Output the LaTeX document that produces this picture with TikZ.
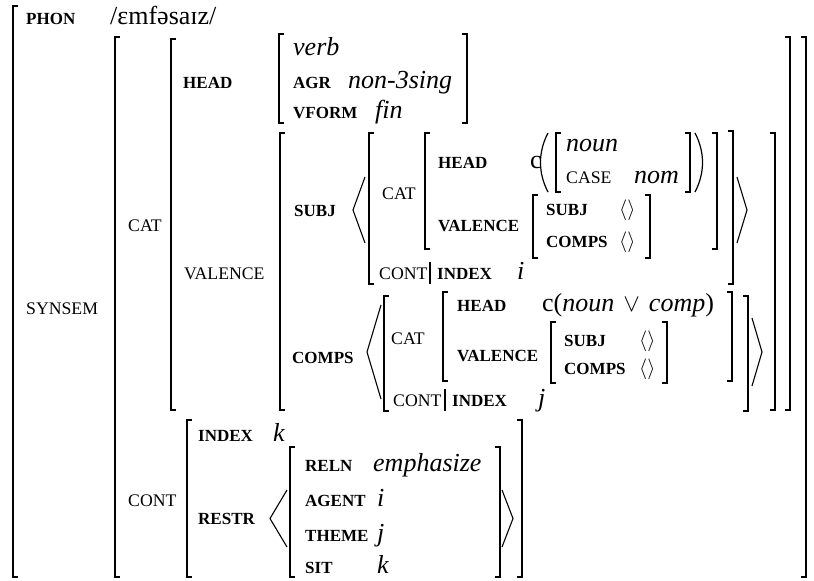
\documentclass[tikz,border=0pt]{standalone}
\usepackage{fontspec}
\setmainfont{Liberation Serif}
\tikzset{
  brk/.style={line width=1.4pt, line cap=butt},
  ang/.style={line width=1.1pt, line join=miter},
  lab/.style={anchor=base west, inner sep=0pt, font=\fontsize{17}{17}\selectfont\bfseries},
  labr/.style={anchor=base west, inner sep=0pt, font=\fontsize{17.7}{17.7}\selectfont},
  val/.style={anchor=base west, inner sep=0pt, font=\fontsize{26}{26}\selectfont\itshape},
  rom/.style={anchor=base west, inner sep=0pt, font=\fontsize{26}{26}\selectfont},
  elist/.style={anchor=base west, inner sep=0pt, font=\fontsize{22}{22}\selectfont},
}
% left / right square brackets: x, ytop, ybottom
\newcommand\avmL[3]{\draw[brk] ({#1+5},{#2}) -- ({#1},{#2}) -- ({#1},{#3}) -- ({#1+5},{#3});}
\newcommand\avmR[3]{\draw[brk] ({#1-5},{#2}) -- ({#1},{#2}) -- ({#1},{#3}) -- ({#1-5},{#3});}
% angle brackets: tip x, end x, ytop, ybottom
\newcommand\avmA[4]{\draw[ang] ({#2},{#3}) -- ({#1},{(#3+#4)/2}) -- ({#2},{#4});}
\begin{document}
\begin{tikzpicture}[x=1pt,y=-1pt]
\useasboundingbox (0,0) rectangle (814,581);

% ---------- outer level ----------
\node[lab]  (phon)   at (26,24)  {PHON};
\node[rom]  (phonv)  at (110,24) {/ɛmfəsaɪz/};
\node[labr] (synsem) at (26,314) {SYNSEM};
\avmL{13}{6}{577}

% ---------- SYNSEM value ----------
\avmL{115}{37}{577}
\avmR{806}{37}{577}
\node[labr] (cat)  at (128,231) {CAT};
\node[labr] (cont) at (128,506) {CONT};

% ---------- CAT value ----------
\avmL{171}{39}{410}
\avmR{790}{37}{410}
\node[lab]  (head) at (183,88)  {HEAD};
\node[labr] (val)  at (184,279) {VALENCE};

% HEAD value
\avmL{279}{34}{123}
\avmR{467}{34}{123}
\node[val] (verb)   at (293,55)  {verb};
\node[lab] (agr)    at (293,88)  {AGR};
\node[val] (agrv)   at (348,88)  {non-3sing};
\node[lab] (vform)  at (293,118) {VFORM};
\node[val] (vformv) at (375,118) {fin};

% VALENCE value
\avmL{280}{133}{410}
\avmR{775}{133}{410}

% ---------- SUBJ ----------
\node[lab] (subj) at (294,216) {SUBJ};
\avmA{353}{365}{177}{243}
\avmL{369}{133}{284}
\avmR{733}{131}{284}
\avmA{747}{737}{177}{243}
\node[labr] (scat) at (382,199) {CAT};
\avmL{425}{133}{249}
\avmR{717}{133}{249}
\node[lab] (shead) at (438,168) {HEAD};
\node[rom] (sc)    at (530,168) {c};
\draw[line width=1.2pt] (548,133) .. controls (538,152) and (538,173) .. (548,192);
\avmL{556}{133}{192}
\avmR{690}{133}{192}
\draw[line width=1.2pt] (695,133) .. controls (705,152) and (705,173) .. (695,192);
\node[val]  (snoun) at (566,151) {noun};
\node[labr] (scase) at (566,183) {CASE};
\node[val]  (snom)  at (634,183) {nom};
\node[lab] (sval) at (438,231) {VALENCE};
\avmL{533}{195}{258}
\avmR{650}{195}{258}
\node[lab]   (ssubj)   at (546,215) {SUBJ};
\node[elist] (ssubjv)  at (619,215) {$\langle\rangle$};
\node[lab]   (scomps)  at (546,247) {COMPS};
\node[elist] (scompsv) at (619,247) {$\langle\rangle$};
\node[labr] (scont)  at (379,279) {CONT};
\draw[line width=1.1pt] (430,262) -- (430,284);
\node[lab]  (sindex) at (437,279) {INDEX};
\node[val]  (si)     at (517,279) {i};

% ---------- COMPS ----------
\node[lab] (comps) at (292,363) {COMPS};
\avmA{367}{381}{305}{399}
\avmL{384}{296}{411}
\avmR{748}{296}{411}
\avmA{762}{752}{318}{386}
\node[labr] (ccat) at (391,344) {CAT};
\avmL{443}{292}{381}
\avmR{732}{292}{381}
\node[lab] (chead) at (457,311) {HEAD};
\node[rom] (chv)   at (542,311) {c(\textit{noun}\hspace{9pt}$\vee$\hspace{9pt}\textit{comp})};
\node[lab] (cval)  at (457,361) {VALENCE};
\avmL{551}{322}{383}
\avmR{667}{322}{383}
\node[lab]   (csubj)   at (564,346) {SUBJ};
\node[elist] (csubjv)  at (639,346) {$\langle\rangle$};
\node[lab]   (ccomps)  at (564,374) {COMPS};
\node[elist] (ccompsv) at (639,374) {$\langle\rangle$};
\node[labr] (ccont)  at (393,406) {CONT};
\draw[line width=1.1pt] (445,389) -- (445,411);
\node[lab]  (cindex) at (452,406) {INDEX};
\node[val]  (cj)     at (538,406) {j};

% ---------- CONT value ----------
\avmL{187}{420}{577}
\avmR{522}{420}{577}
\node[lab] (index) at (198,441) {INDEX};
\node[val] (k1)    at (273,441) {k};
\node[lab] (restr) at (198,524) {RESTR};
\avmA{270}{287}{490}{547}
\avmL{290}{447}{577}
\avmR{500}{447}{577}
\avmA{513}{502}{490}{547}
\node[lab] (reln)   at (305,471) {RELN};
\node[val] (relnv)  at (373,471) {emphasize};
\node[lab] (agent)  at (305,506) {AGENT};
\node[val] (agentv) at (377,506) {i};
\node[lab] (theme)  at (305,541) {THEME};
\node[val] (themev) at (377,541) {j};
\node[lab] (sit)    at (305,573) {SIT};
\node[val] (sitv)   at (377,573) {k};
\end{tikzpicture}
\end{document}
